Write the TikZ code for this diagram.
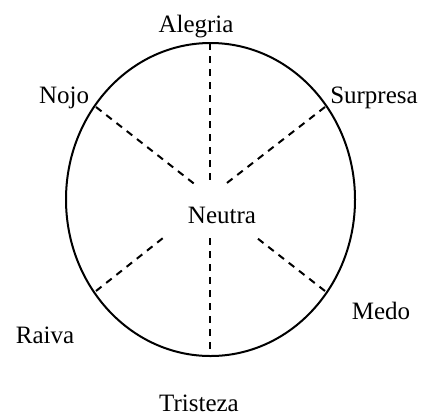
\documentclass[tikz,border=0pt]{standalone}
\usepackage{fontspec}
\setmainfont{Liberation Serif}
\begin{document}
\begin{tikzpicture}[x=1pt, y=-1pt, font=\fontsize{25}{30}\selectfont,
  spoke/.style={dash pattern=on 7pt off 6pt, line width=2pt},
  emo/.style={anchor=base, inner sep=0pt}]
\useasboundingbox (0,0) rectangle (427,416);
\draw[line width=2pt] (210.5,199.5) ellipse [x radius=144.5, y radius=156.5];
% labels
\node[emo] (alegria) at (196,32) {Alegria};
\node[emo] (nojo) at (64,103) {Nojo};
\node[emo] (surpresa) at (374,103) {Surpresa};
\node[emo] (neutra) at (222,223) {Neutra};
\node[emo] (raiva) at (45,343) {Raiva};
\node[emo] (medo) at (381,319) {Medo};
\node[emo] (tristeza) at (199,411.5) {Tristeza};
% spoke ends
\coordinate (top) at (210,43);
\coordinate (topin) at (210,186);
\coordinate (bot) at (210,356);
\coordinate (botin) at (210,238);
\coordinate (nw) at (96,107);
\coordinate (nwin) at (197,186);
\coordinate (ne) at (325,107);
\coordinate (nein) at (223,186);
\coordinate (sw) at (96,291);
\coordinate (swin) at (163,238);
\coordinate (se) at (325,291);
\coordinate (sein) at (257,238);
\draw[spoke] (top) -- (topin);
\draw[spoke] (botin) -- (bot);
\draw[spoke] (nw) -- (nwin);
\draw[spoke] (ne) -- (nein);
\draw[spoke] (sw) -- (swin);
\draw[spoke] (se) -- (sein);
\end{tikzpicture}
\end{document}
